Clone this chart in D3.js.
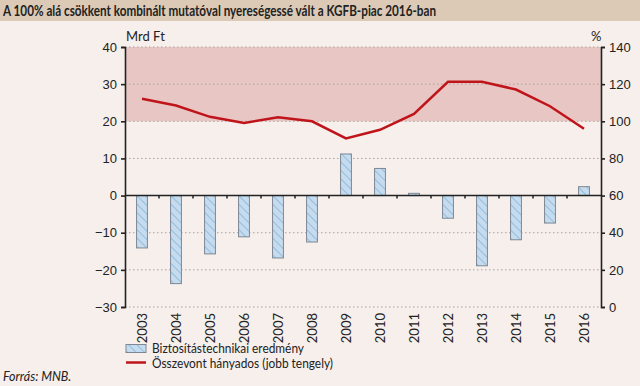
<!DOCTYPE html>
<html>
<head>
<meta charset="utf-8">
<script src="https://cdn.jsdelivr.net/npm/d3@7"></script>
<style>
  body { margin: 0; background: #f6efeb; }
  svg { display: block; font-family: Lato, "Open Sans", sans-serif; }
</style>
</head>
<body>
<div id="root"></div>
<script>
const years = ["2003", "2004", "2005", "2006", "2007", "2008", "2009", "2010", "2011", "2012", "2013", "2014", "2015", "2016"];
const result = [-14.1, -23.7, -15.7, -11.1, -16.8, -12.5, 11.2, 7.3, 0.6, -6.1, -18.9, -11.9, -7.4, 2.4];
const ratio = [112.1, 108.5, 102.4, 99.1, 102.2, 100.0, 90.8, 95.4, 104.0, 121.3, 121.3, 117.1, 108.1, 96.0];
const leftTicks = [-30, -20, -10, 0, 10, 20, 30, 40];
const rightTicks = [0, 20, 40, 60, 80, 100, 120, 140];
const band = [100, 140];

const w = 640, h = 386;
const plotL = 125, plotR = 601, plotT = 47, plotB = 307;

const svg = d3.select("#root").append("svg")
  .attr("width", w).attr("height", h);

// hatch pattern for bars
const pat = svg.append("defs").append("pattern")
  .attr("id", "hatch")
  .attr("patternUnits", "userSpaceOnUse")
  .attr("width", 6).attr("height", 6)
  .attr("patternTransform", "rotate(-45)");
pat.append("rect").attr("width", 6).attr("height", 6).attr("fill", "#c6dcee");
pat.append("line").attr("x1", 0).attr("y1", 0).attr("x2", 0).attr("y2", 6)
  .attr("stroke", "#6fa8d6").attr("stroke-width", 1.2);

// condense a text to the width it has in the reference
function squeeze(sel, target) {
  if (sel.node().getComputedTextLength() > target)
    sel.attr("textLength", target).attr("lengthAdjust", "spacingAndGlyphs");
}

// title bar
svg.append("rect").attr("x", 0).attr("y", 0).attr("width", w).attr("height", 21).attr("fill", "#dccab7");
const title = svg.append("text").attr("x", 3).attr("y", 15.5)
  .attr("font-size", 15).attr("font-weight", "bold").attr("fill", "#222")
  .text("A 100% alá csökkent kombinált mutatóval nyereségessé vált a KGFB-piac 2016-ban");
squeeze(title, 433);

const x = d3.scaleBand().domain(years).range([plotL, plotR]).paddingInner(0.68).paddingOuter(0.34);
const xb = d3.scaleBand().domain(years).range([plotL, plotR]);
const yL = d3.scaleLinear().domain([-30, 40]).range([plotB, plotT]);
const yR = d3.scaleLinear().domain([0, 140]).range([plotB, plotT]);

// shaded band
svg.append("rect")
  .attr("x", plotL).attr("width", plotR - plotL)
  .attr("y", yR(band[1])).attr("height", yR(band[0]) - yR(band[1]))
  .attr("fill", "#e8c6c3");

// gridlines
svg.append("g").selectAll("line").data(leftTicks.filter(d => d !== 0)).enter()
  .append("line")
  .attr("x1", plotL).attr("x2", plotR)
  .attr("y1", d => yL(d)).attr("y2", d => yL(d))
  .attr("stroke", "#a9a4a1").attr("stroke-width", 1).attr("stroke-dasharray", "1.5,2.5");

// bars
svg.append("g").selectAll("rect").data(result).enter()
  .append("rect")
  .attr("x", (d, i) => x(years[i]))
  .attr("width", x.bandwidth())
  .attr("y", d => yL(Math.max(0, d)))
  .attr("height", d => Math.abs(yL(d) - yL(0)))
  .attr("fill", "url(#hatch)")
  .attr("stroke", "#7d8893").attr("stroke-width", 1);

// line
const line = d3.line()
  .x((d, i) => xb(years[i]) + xb.bandwidth() / 2)
  .y(d => yR(d));
svg.append("path").datum(ratio)
  .attr("d", line)
  .attr("fill", "none").attr("stroke", "#c0141b").attr("stroke-width", 2.5);

// left axis
const axL = svg.append("g").attr("transform", `translate(${plotL},0)`)
  .call(d3.axisLeft(yL).tickValues(leftTicks).tickSize(4).tickPadding(4)
    .tickFormat(d => d < 0 ? "\u2212" + Math.abs(d) : d));
// right axis
const axR = svg.append("g").attr("transform", `translate(${plotR},0)`)
  .call(d3.axisRight(yR).tickValues(rightTicks).tickSize(4).tickPadding(4));
[axL, axR].forEach(a => {
  a.select(".domain").attr("stroke", "#222").attr("stroke-width", 1.6);
  a.selectAll(".tick line").attr("stroke", "#222").attr("stroke-width", 1.6);
  a.selectAll("text").attr("font-size", 13).attr("fill", "#222").attr("font-family", null);
});

// zero line with category ticks
svg.append("line").attr("x1", plotL).attr("x2", plotR)
  .attr("y1", yL(0)).attr("y2", yL(0))
  .attr("stroke", "#222").attr("stroke-width", 1.6);
svg.append("g").selectAll("line").data(years.slice(1)).enter()
  .append("line")
  .attr("x1", d => xb(d)).attr("x2", d => xb(d))
  .attr("y1", yL(0)).attr("y2", yL(0) + 3)
  .attr("stroke", "#222").attr("stroke-width", 1.5);

// year labels
svg.append("g").selectAll("text").data(years).enter()
  .append("text")
  .attr("transform", d => `translate(${xb(d) + xb.bandwidth() / 2 + 4.5},${plotB + 6}) rotate(-90)`)
  .attr("text-anchor", "end")
  .attr("font-size", 13).attr("fill", "#222")
  .text(d => d);

// axis units
svg.append("text").attr("x", plotL + 1).attr("y", 41).attr("font-size", 13).attr("fill", "#222").text("Mrd Ft");
svg.append("text").attr("x", plotR - 10).attr("y", 41).attr("font-size", 13).attr("fill", "#222").text("%");

// legend
const lg = svg.append("g").attr("transform", "translate(126,343)");
lg.append("rect").attr("x", 0).attr("y", 1.5).attr("width", 20).attr("height", 8)
  .attr("fill", "url(#hatch)").attr("stroke", "#7d8893");
const l1 = lg.append("text").attr("x", 26).attr("y", 10).attr("font-size", 13).attr("fill", "#222")
  .text("Biztosítástechnikai eredmény");
squeeze(l1, 152);
lg.append("line").attr("x1", 0).attr("x2", 20).attr("y1", 19.5).attr("y2", 19.5)
  .attr("stroke", "#c0141b").attr("stroke-width", 2.5);
const l2 = lg.append("text").attr("x", 26).attr("y", 25).attr("font-size", 13).attr("fill", "#222")
  .text("Összevont hányados (jobb tengely)");
squeeze(l2, 181);

// source
svg.append("text").attr("x", 3).attr("y", 381).attr("font-size", 12.5).attr("font-style", "italic")
  .attr("fill", "#222").text("Forrás: MNB.");
</script>
</body>
</html>
